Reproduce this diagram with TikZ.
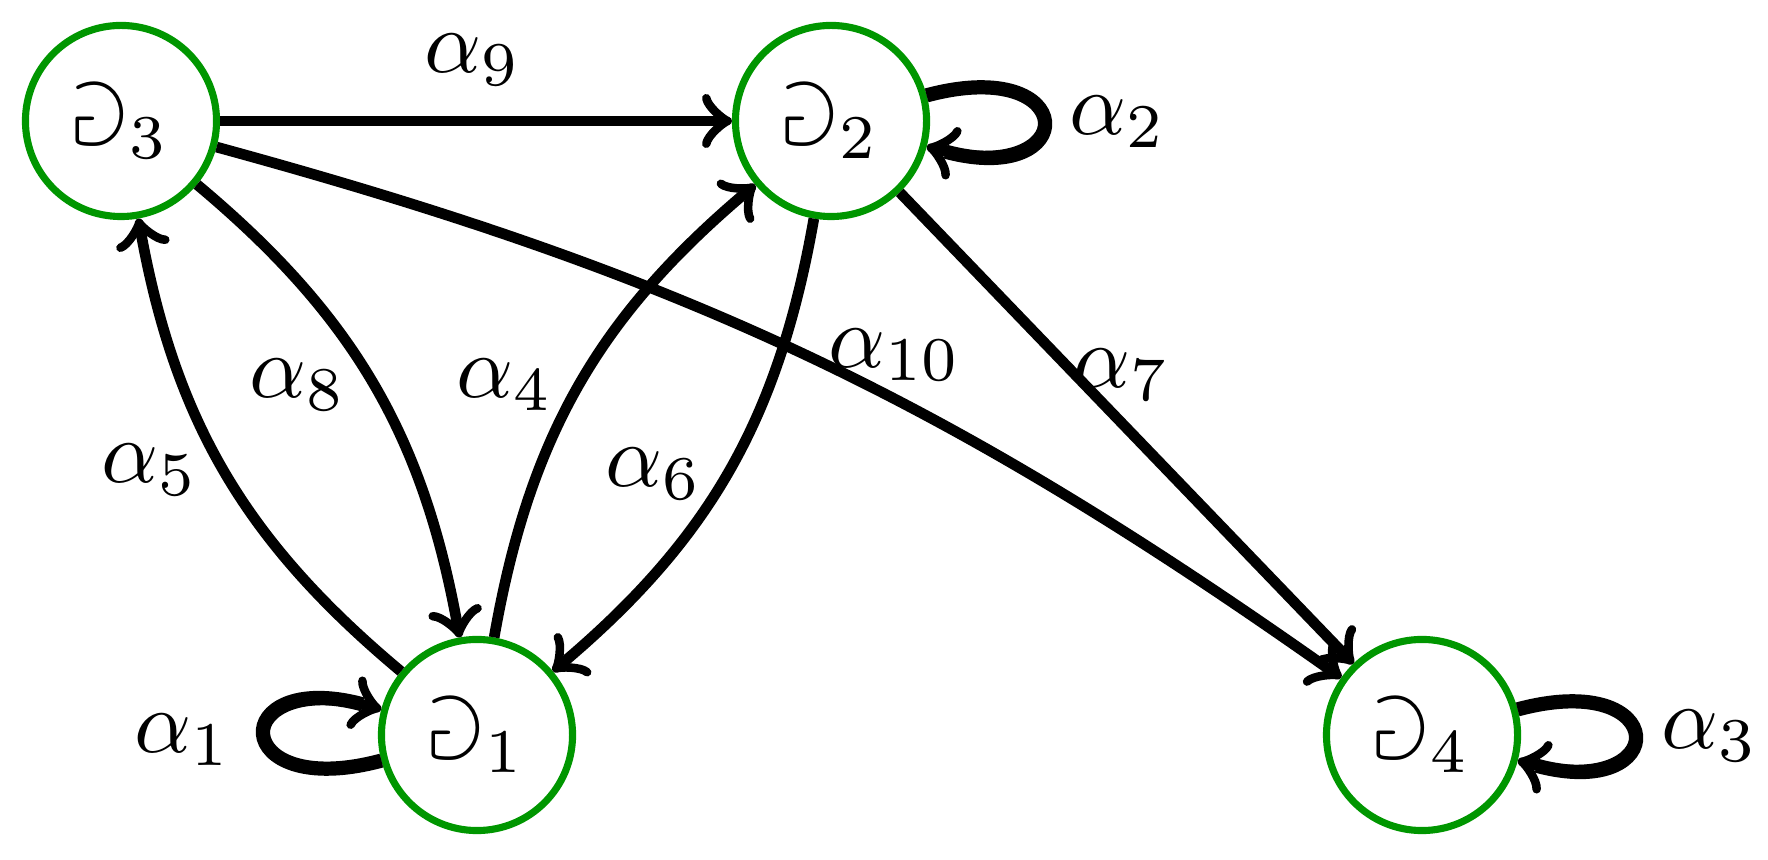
\documentclass[tikz,border=0pt]{standalone}
\usepackage{amssymb}
\definecolor{stgreen}{RGB}{0,150,0}
\begin{document}
\begin{tikzpicture}[x=0.1125pt,y=0.1125pt,
  gstate/.style={circle, draw=stgreen, line width=0.8pt, minimum size=21.5pt, inner sep=0pt},
  trans/.style={->, line width=1.2pt},
  selfloop/.style={->, line width=1.2pt, postaction={draw, -, line width=1.6pt, shorten >=2.2pt}},
  lbl/.style={inner sep=0pt}]
\useasboundingbox (0,0) rectangle (1768,860);
\node[gstate] (d3) at (121,739) {$\Game_3$};
\node[gstate] (d2) at (831,739) {$\Game_2$};
\node[gstate] (d1) at (477,125) {$\Game_1$};
\node[gstate] (d4) at (1422,125) {$\Game_4$};

\draw[trans] (d3) -- (d2);
\draw[trans] (d3) to[bend left=10] (d4);
\draw[trans] (d3) to[bend left=20] (d1);
\draw[trans] (d1) to[bend left=20] (d3);
\draw[trans] (d1) to[bend left=20] (d2);
\draw[trans] (d2) to[bend left=20] (d1);
\draw[trans] (d2) -- (d4);
\draw[selfloop] (d1) to[loop left] (d1);
\draw[selfloop] (d2) to[loop right] (d2);
\draw[selfloop] (d4) to[loop right] (d4);

\node[lbl] (l9) at (473,800) {$\alpha_9$};
\node[lbl] (l2) at (1118,738) {$\alpha_2$};
\node[lbl] (l3) at (1710,124) {$\alpha_3$};
\node[lbl] (l1) at (183,120) {$\alpha_1$};
\node[lbl] (l5) at (150,390) {$\alpha_5$};
\node[lbl] (l8) at (298,475) {$\alpha_8$};
\node[lbl] (l4) at (505,475) {$\alpha_4$};
\node[lbl] (l6) at (654,386) {$\alpha_6$};
\node[lbl] (l10) at (895,505) {$\alpha_{10}$};
\node[lbl] (l7) at (1122,485) {$\alpha_7$};
\end{tikzpicture}
\end{document}
